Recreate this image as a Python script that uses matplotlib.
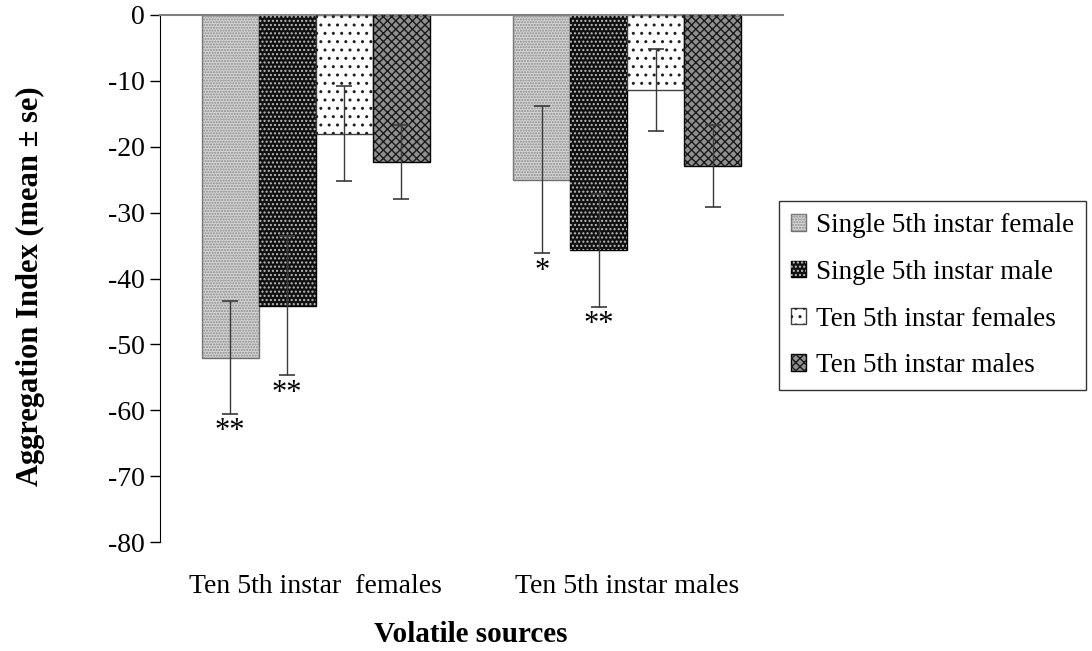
import matplotlib.pyplot as plt
import numpy as np

plt.rcParams['font.family'] = ['Liberation Serif', 'DejaVu Serif']
plt.rcParams['hatch.linewidth'] = 1.0
plt.rcParams['axes.unicode_minus'] = False

groups = ['Ten 5th instar  females', 'Ten 5th instar males']
series = ['Single 5th instar female', 'Single 5th instar male',
          'Ten 5th instar females', 'Ten 5th instar males']
means = [[-52.0, -25.0],
         [-44.1, -35.7],
         [-18.0, -11.4],
         [-22.3, -22.9]]
errs = [[8.6, 11.2],
        [10.6, 8.6],
        [7.2, 6.2],
        [5.6, 6.2]]
# significance marks: (group, series, text)
stars = [(0, 0, '**'), (0, 1, '**'), (1, 0, '*'), (1, 1, '**')]

face = ['#d4d4d4', '#101010', 'white', '#909090']
hatch_col = ['#8c8c8c', '#bcbcbc', '#202020', '#1a1a1a']
hatches = ['......', '....', '..', 'xxxx']
edge = ['#707070', 'black', '#404040', 'black']

fig = plt.figure(figsize=(10.92, 6.51), dpi=100)
ax = fig.add_axes([160 / 1092, 1 - 542 / 651, 623 / 1092, 527 / 651])

x = np.arange(len(groups))
w = 0.183
handles = []
for i in range(len(series)):
    pos = x + (i - 1.5) * w
    b = ax.bar(pos, means[i], w, color=face[i], edgecolor=edge[i], linewidth=1, zorder=2)
    hb = ax.bar(pos, means[i], w, color='none', edgecolor=hatch_col[i], hatch=hatches[i],
                linewidth=0, zorder=3)
    ax.errorbar(pos, means[i], yerr=errs[i], fmt='none', ecolor='#3a3a3a',
                elinewidth=1, capsize=6, capthick=1.2, zorder=4)
    handles.append((b, hb))

for g, s, txt in stars:
    xs = x[g] + (s - 1.5) * w
    ys = means[s][g] - errs[s][g]
    ax.text(xs, ys - 0.5, txt, ha='center', va='top', fontsize=22)

ax.set_xlim(-0.5, 1.5)
ax.set_ylim(-80, 0)
ax.set_yticks(np.arange(-80, 1, 10))
ax.set_xticks(x)
ax.set_xticklabels(groups, fontsize=20)
ax.tick_params(axis='x', length=0, pad=23)
ax.tick_params(axis='y', labelsize=20, length=7, width=1, direction='out', pad=4)
ax.spines['bottom'].set_visible(False)
ax.spines['right'].set_visible(False)
ax.spines['top'].set_color('#808080')
ax.spines['top'].set_linewidth(1.5)

fig.text(30 / 1092, 1 - 286 / 651, 'Aggregation Index (mean ± se)', rotation=90,
         ha='center', va='center', fontsize=22, fontweight='bold')
fig.text(471 / 1092, 1 - 635 / 651, 'Volatile sources', ha='center', va='center',
         fontsize=21, fontweight='bold')

leg = fig.legend(handles, series, loc='upper left', bbox_to_anchor=(779 / 1092, 1 - 201 / 651),
                 fontsize=19.5, frameon=True, fancybox=False, edgecolor='black',
                 handlelength=0.55, handleheight=0.55, handletextpad=0.35,
                 borderaxespad=0, labelspacing=0.8, borderpad=0.45)
leg.get_frame().set_linewidth(1)

fig.savefig('out.png', dpi=100)
